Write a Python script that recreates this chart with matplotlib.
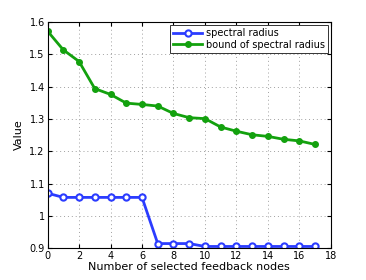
import matplotlib
matplotlib.use("Agg")
import matplotlib.pyplot as plt

nodes = list(range(18))
spectral_radius = [1.070, 1.057, 1.057, 1.057, 1.057, 1.057, 1.057, 0.914, 0.914, 0.914,
                   0.905, 0.905, 0.905, 0.905, 0.905, 0.905, 0.905, 0.905]
bound = [1.572, 1.514, 1.478, 1.394, 1.376, 1.349, 1.345, 1.340, 1.317, 1.304,
         1.301, 1.275, 1.262, 1.251, 1.246, 1.237, 1.232, 1.221]

xticks = list(range(0, 19, 2))
yticks = [0.9, 1.0, 1.1, 1.2, 1.3, 1.4, 1.5, 1.6]
ytick_labels = ['0.9', '1', '1.1', '1.2', '1.3', '1.4', '1.5', '1.6']

fig = plt.figure(figsize=(3.66, 2.8), dpi=100)
ax = fig.add_axes([0.13, 0.114, 0.774, 0.807])

ax.plot(nodes, spectral_radius, color='#2b3cff', lw=2, marker='o', ms=4.5,
        mfc='white', mec='#2b3cff', mew=1.5, label='spectral radius')
ax.plot(nodes, bound, color='#13a10e', lw=2, marker='o', ms=4,
        mfc='#13a10e', mec='#13a10e', label='bound of spectral radius')

ax.set_xlim(0, 18)
ax.set_ylim(0.9, 1.6)
ax.set_xticks(xticks)
ax.set_yticks(yticks)
ax.set_yticklabels(ytick_labels)
ax.tick_params(direction='in', top=True, right=True, labelsize=7, length=3, pad=2)
ax.grid(True, linestyle=(0, (1, 3)), color='#a0a0a0', lw=0.7)
for s in ax.spines.values():
    s.set_linewidth(0.8)

ax.set_xlabel('Number of selected feedback nodes', fontsize=8, labelpad=1)
ax.set_ylabel('Value', fontsize=8, labelpad=4)

leg = ax.legend(loc='upper right', fontsize=7, fancybox=False, framealpha=1,
                edgecolor='#333333', borderpad=0.3, labelspacing=0.2,
                handlelength=3, handletextpad=0.4, borderaxespad=0.3)
leg.get_frame().set_linewidth(0.7)

fig.savefig('out.png', dpi=100)
